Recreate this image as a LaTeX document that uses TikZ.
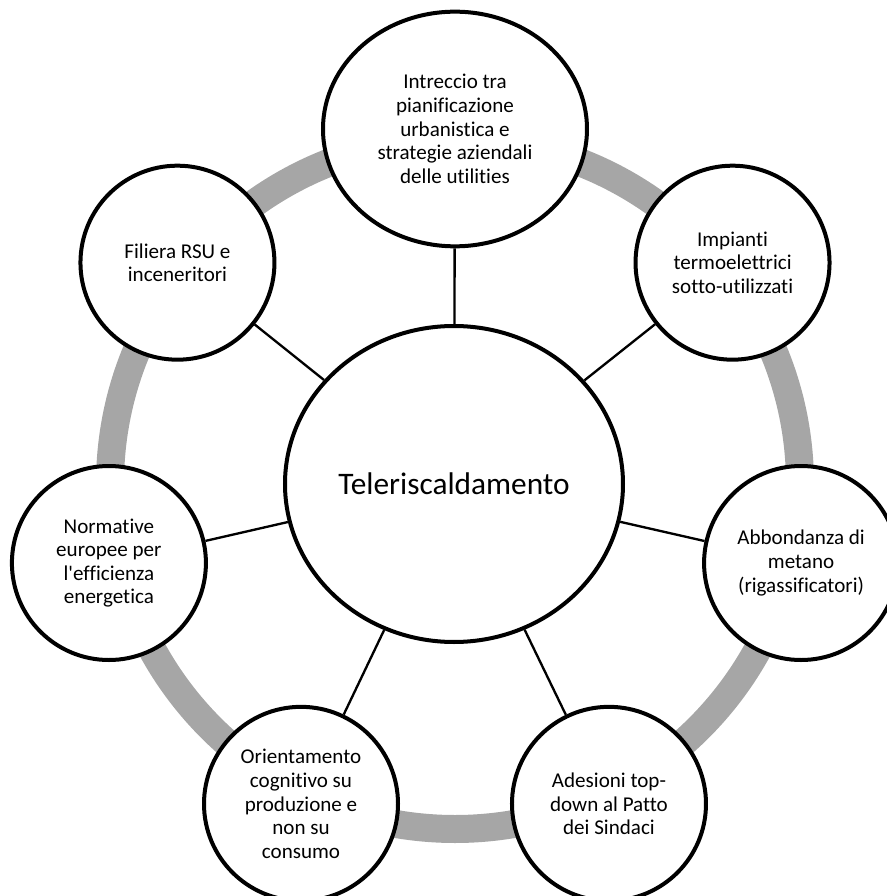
\documentclass[tikz,border=0pt]{standalone}
\usepackage{fontspec}
\setmainfont[Ligatures={NoCommon,TeXOff}]{Carlito}
\usepackage{xcolor}
\usepackage{tikz}
\usetikzlibrary{shapes.geometric}

\definecolor{ringgray}{RGB}{166,166,166}

\tikzset{
  factor/.style={circle, draw=black, line width=3pt, fill=white,
    minimum size=145.5pt, inner sep=0pt, align=center,
    font=\fontsize{15.8}{17.7}\selectfont},
  link/.style={black, line width=1.75pt}
}

\begin{document}
\begin{tikzpicture}[x=0.75pt,y=0.75pt]
  % Frame of the picture
  \clip (-455,-412) rectangle (432,484);

  % Gray ring behind the factors
  \draw[ringgray, line width=21pt] (0,0) circle (345);

  % Central theme
  \node[ellipse, draw=black, line width=3pt, fill=white,
        minimum width=253.5pt, minimum height=237pt, inner sep=0pt,
        font=\fontsize{23.5}{28}\selectfont] (core) at (-1,0)
    {\makebox[0pt]{Teleriscaldamento}};

  % Factors round the ring
  \node[factor, ellipse, minimum width=198pt, minimum height=176pt] (intreccio) at (0,355)
    {Intreccio tra\\pianificazione\\urbanistica e\\strategie aziendali\\delle utilities};
  \node[factor] (impianti)   at (38.57:355)   {Impianti\\termoelettrici\\sotto-utilizzati};
  \node[factor] (metano)     at (-12.86:355)  {Abbondanza di\\metano\\(rigassificatori)};
  \node[factor] (patto)      at (-64.29:355)  {Adesioni top-\\down al Patto\\dei Sindaci};
  \node[factor] (cognitivo)  at (-115.71:355) {Orientamento\\cognitivo su\\produzione e\\non su\\consumo};
  \node[factor] (normative)  at (-167.14:355) {Normative\\europee per\\l'efficienza\\energetica};
  \node[factor] (filiera)    at (141.43:355)  {Filiera RSU e\\inceneritori};

  % Spokes from the centre
  \draw[link] (core) -- (intreccio);
  \draw[link] (core) -- (impianti);
  \draw[link] (core) -- (metano);
  \draw[link] (core) -- (patto);
  \draw[link] (core) -- (cognitivo);
  \draw[link] (core) -- (normative);
  \draw[link] (core) -- (filiera);
\end{tikzpicture}
\end{document}
